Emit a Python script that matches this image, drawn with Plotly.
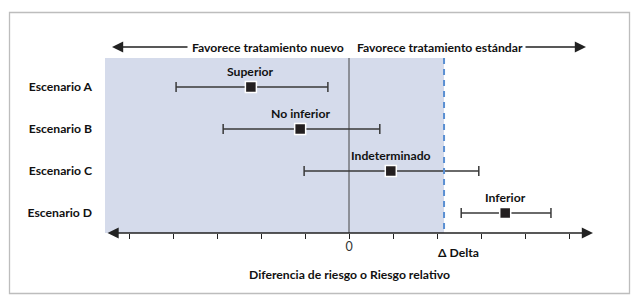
import plotly.graph_objects as go

# ---- data ----
scenarios = ["Escenario A", "Escenario B", "Escenario C", "Escenario D"]
estimates = [-2.23, -1.11, 0.95, 3.55]
ci_low = [-3.93, -2.86, -1.02, 2.55]
ci_high = [-0.48, 0.70, 2.95, 4.59]
result_labels = ["Superior", "No inferior", "Indeterminado", "Inferior"]
tick_values = [-5, -4, -3, -2, -1, 0, 1, 2, 3, 4, 5]
tick_labels = ["", "", "", "", "", "0", "", "", "", "", ""]
delta = 2.16
delta_label = "\u0394 Delta"
left_text = "Favorece tratamiento nuevo"
right_text = "Favorece tratamiento estándar"
x_title = "Diferencia de riesgo o Riesgo relativo"

# ---- layout geometry ----
W, H = 636, 296
ML, MB = 98, 63
PW, PH = W - ML, H - MB
X0PIX, UPX = 349, 44.0
xmin = -(X0PIX - ML) / UPX
xmax = (W - X0PIX) / UPX
ROW0, ROWPX = 87, 42.0
ytop = -ROW0 / ROWPX
ybot = (PH - ROW0) / ROWPX

def xd(p):
    return (p - X0PIX) / UPX

def yd(p):
    return (p - ROW0) / ROWPX

def px(p):
    return (p - ML) / PW

def py(p):
    return 1 - p / PH

FONT = "Lato"
FS = 12.2
TXT = "#111111"
LINE = "#3a3a3a"

fig = go.Figure()

fig.add_trace(go.Scatter(
    x=estimates, y=list(range(len(scenarios))),
    mode="markers",
    marker=dict(symbol="square", size=11, color="#231f20",
                line=dict(color="white", width=1.5)),
    error_x=dict(type="data", symmetric=False,
                 array=[h - e for h, e in zip(ci_high, estimates)],
                 arrayminus=[e - l for e, l in zip(estimates, ci_low)],
                 color=LINE, thickness=1.5, width=5),
    showlegend=False, hoverinfo="skip",
))

shapes = []
shapes.append(dict(type="rect", xref="x", yref="y",
                   x0=xd(105), x1=delta, y0=yd(58), y1=ybot,
                   fillcolor="#d5dbeb", line=dict(width=0), layer="below"))
shapes.append(dict(type="line", xref="x", yref="y", x0=0, x1=0,
                   y0=yd(58), y1=ybot, line=dict(color="#444444", width=1),
                   layer="below"))
shapes.append(dict(type="line", xref="x", yref="y", x0=delta, x1=delta,
                   y0=yd(58), y1=ybot, line=dict(color="#5a8fd2", width=2, dash="6px,5px")))
shapes.append(dict(type="rect", xref="paper", yref="paper",
                   x0=px(9.5), x1=px(629.5), y0=py(12.5), y1=py(293.5),
                   line=dict(color="#bdbdbd", width=1.3)))

annotations = []
for i, (lab, e) in enumerate(zip(result_labels, estimates)):
    annotations.append(dict(x=e, y=i, xref="x", yref="y", text="<b>%s</b>" % lab,
                            showarrow=False, yshift=16, font=dict(family=FONT, size=FS, color=TXT)))

annotations.append(dict(x=xd(593), y=ybot, ax=xd(106), ay=ybot, xref="x", yref="y",
                        axref="x", ayref="y", text="", showarrow=True,
                        arrowhead=2, startarrowhead=2, arrowside="end+start",
                        arrowsize=1.4, arrowwidth=1.6, arrowcolor="#222222", standoff=0, startstandoff=0))
annotations.append(dict(x=xd(112), y=yd(47), ax=xd(189), ay=yd(47), xref="x", yref="y",
                        axref="x", ayref="y", text="", showarrow=True, arrowhead=2,
                        arrowsize=1.4, arrowwidth=1.6, arrowcolor="#222222", standoff=0))
annotations.append(dict(x=xd(586), y=yd(47), ax=xd(524), ay=yd(47), xref="x", yref="y",
                        axref="x", ayref="y", text="", showarrow=True, arrowhead=2,
                        arrowsize=1.4, arrowwidth=1.6, arrowcolor="#222222", standoff=0))
annotations.append(dict(x=xd(346), y=yd(47), xref="x", yref="y", xanchor="right",
                        text="<b>%s</b>" % left_text, showarrow=False,
                        font=dict(family=FONT, size=FS, color=TXT)))
annotations.append(dict(x=xd(355), y=yd(47), xref="x", yref="y", xanchor="left",
                        text="<b>%s</b>" % right_text, showarrow=False,
                        font=dict(family=FONT, size=FS, color=TXT)))
annotations.append(dict(x=delta, y=py(252), xref="x", yref="paper", xanchor="left",
                        yanchor="middle", xshift=-8,
                        text="<b>%s</b>" % delta_label, showarrow=False,
                        font=dict(family=FONT, size=FS, color=TXT)))
annotations.append(dict(x=0, y=py(274), xref="x", yref="paper", yanchor="middle",
                        text="<b>%s</b>" % x_title, showarrow=False,
                        font=dict(family=FONT, size=FS, color=TXT)))

fig.update_layout(
    width=W, height=H,
    margin=dict(l=ML, r=0, t=0, b=MB),
    paper_bgcolor="white", plot_bgcolor="white",
    shapes=shapes, annotations=annotations,
    xaxis=dict(range=[xmin, xmax], tickvals=tick_values, ticktext=tick_labels,
               ticks="outside", ticklen=5, tickwidth=1.4, tickcolor="#222222",
               showgrid=False, zeroline=False, showline=False,
               ticklabelstandoff=-3,
               tickfont=dict(family=FONT, size=12.5, color="#333333")),
    yaxis=dict(range=[ybot, ytop], tickvals=list(range(len(scenarios))),
               ticktext=["<b>%s</b>" % s for s in scenarios],
               showgrid=False, zeroline=False, showline=False, ticks="",
               ticklabelstandoff=5,
               tickfont=dict(family=FONT, size=FS, color=TXT)),
)

fig.write_html("out.html", config={"displayModeBar": False},
               post_script="document.body.style.margin='0';document.body.style.overflow='hidden';")
